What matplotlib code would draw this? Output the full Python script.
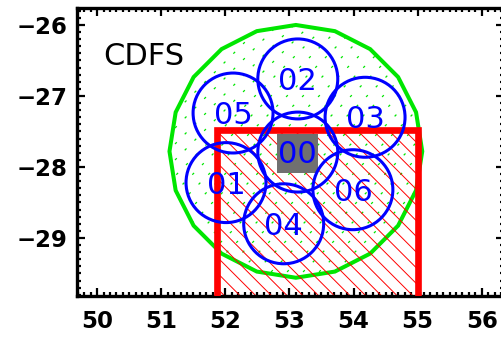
import numpy as np
import matplotlib
matplotlib.use("Agg")
import matplotlib.pyplot as plt
from matplotlib.patches import Ellipse, Polygon, Rectangle
from matplotlib.collections import LineCollection
from matplotlib.ticker import MultipleLocator

# pointings of the seven sub-fields (RA, Dec in degrees)
field_names = ['00', '01', '02', '03', '04', '05', '06']
field_ra = [53.13, 52.01, 53.13, 54.18, 52.91, 52.12, 53.99]
field_dec = [-27.79, -28.22, -26.76, -27.30, -28.80, -27.24, -28.32]
field_radius = 0.563
ra_stretch = 1.108

# large survey footprint (green 20-gon)
survey_ra, survey_dec = 53.10, -27.78
survey_radius = 1.78
survey_nvert = 20

# hatched red coverage box (open at the bottom)
box_ra = [51.864, 55.0]
box_dec = [-30.5, -27.486]

# deep central region (gray)
deep_ra = [52.81, 53.44]
deep_dec = [-28.088, -27.535]

fig = plt.figure(figsize=(5.02, 3.39), dpi=100)
ax = fig.add_axes([76.7 / 502, 1 - 295.5 / 339, (504 - 76.7) / 502, (295.5 - 7.5) / 339])
ax.set_xlim(49.68, 56.348)
ax.set_ylim(-29.81, -25.754)
w_in, h_in = fig.get_size_inches()


def line_fill(clip, slope, step, color, lw, ls, z):
    # parallel lines in figure inches, clipped to a patch
    cs = np.arange(-2 * w_in, 2 * h_in + w_in, step)
    segs = [[(0, c), (w_in, slope * w_in + c)] for c in cs]
    lc = LineCollection(segs, transform=fig.dpi_scale_trans, colors=color,
                        linewidths=lw, linestyles=[ls], zorder=z)
    ax.add_collection(lc)
    lc.set_clip_path(clip)


# survey outline and dotted fill
ang = np.deg2rad(np.arange(survey_nvert) * 360.0 / survey_nvert)
verts = np.column_stack([survey_ra + survey_radius * ra_stretch * np.cos(ang),
                         survey_dec + survey_radius * np.sin(ang)])
green = Polygon(verts, closed=True, fill=False, edgecolor='#00e600', lw=2.9, zorder=2)
ax.add_patch(green)
line_fill(green, 1.0, 0.16, '#00e600', 0.9, (0, (2.0, 9.0)), 1)

# red hatched box: hatch clipped to the box inside the axes, outline on three sides
ylo = max(box_dec[0], ax.get_ylim()[0])
hatch_area = Rectangle((box_ra[0], ylo), box_ra[1] - box_ra[0], box_dec[1] - ylo,
                       fill=False, edgecolor='none')
ax.add_patch(hatch_area)
line_fill(hatch_area, -1.0, 0.157, 'red', 0.7, '-', 2.5)
ax.plot([box_ra[0], box_ra[0], box_ra[1], box_ra[1]],
        [box_dec[0], box_dec[1], box_dec[1], box_dec[0]],
        color='red', lw=4.8, solid_joinstyle='miter', zorder=3)

# gray deep patch
ax.add_patch(Rectangle((deep_ra[0], deep_dec[0]), deep_ra[1] - deep_ra[0], deep_dec[1] - deep_dec[0],
                       facecolor='#707070', edgecolor='none', zorder=4))

# sub-field circles and their labels
for name, ra, dec in zip(field_names, field_ra, field_dec):
    ax.add_patch(Ellipse((ra, dec), 2 * field_radius * ra_stretch, 2 * field_radius,
                         fill=False, edgecolor='blue', lw=2.2, zorder=5))
    ax.annotate(name, (ra, dec), xytext=(0, -8), textcoords='offset points',
                ha='center', va='baseline', color='blue', fontsize=22, zorder=6)

ax.text(50.10, -26.563, 'CDFS', fontsize=22, ha='left', va='baseline', color='black')

ax.set_xlim(49.68, 56.348)
ax.set_ylim(-29.81, -25.754)
ax.xaxis.set_major_locator(MultipleLocator(1))
ax.yaxis.set_major_locator(MultipleLocator(1))
ax.xaxis.set_minor_locator(MultipleLocator(0.1))
ax.yaxis.set_minor_locator(MultipleLocator(0.1))
ax.tick_params(which='both', direction='in', top=True, right=True, width=1.6, color='black')
ax.tick_params(which='major', length=5.8)
ax.tick_params(which='minor', length=3.2)
ax.tick_params(axis='x', which='major', pad=10.5)
ax.tick_params(axis='y', which='major', pad=6.5)
for lab in ax.get_xticklabels() + ax.get_yticklabels():
    lab.set_fontsize(16.5)
    lab.set_fontweight('bold')
for sp in ax.spines.values():
    sp.set_linewidth(2.4)

fig.savefig('out.png', dpi=100)
